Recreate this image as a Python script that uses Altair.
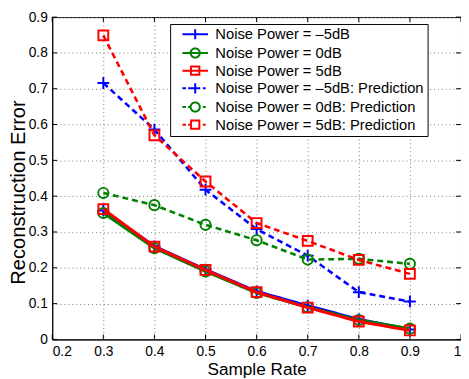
import altair as alt
import pandas as pd

sample_rate = [0.3, 0.4, 0.5, 0.6, 0.7, 0.8, 0.9]
labels = [
    "Noise Power = –5dB",
    "Noise Power = 0dB",
    "Noise Power = 5dB",
    "Noise Power = –5dB: Prediction",
    "Noise Power = 0dB: Prediction",
    "Noise Power = 5dB: Prediction",
]
err_m5 = [0.360, 0.260, 0.195, 0.134, 0.094, 0.056, 0.028]
err_0 = [0.353, 0.255, 0.190, 0.130, 0.090, 0.054, 0.030]
err_5 = [0.364, 0.259, 0.194, 0.132, 0.089, 0.050, 0.025]
pred_m5 = [0.716, 0.586, 0.418, 0.308, 0.234, 0.132, 0.106]
pred_0 = [0.409, 0.375, 0.320, 0.277, 0.223, 0.225, 0.211]
pred_5 = [0.849, 0.570, 0.441, 0.325, 0.275, 0.222, 0.183]
series_values = [err_m5, err_0, err_5, pred_m5, pred_0, pred_5]
colors = ["#0000ff", "#008000", "#ff0000", "#0000ff", "#008000", "#ff0000"]
x_ticks = [0.2, 0.3, 0.4, 0.5, 0.6, 0.7, 0.8, 0.9, 1.0]
y_ticks = [0.0, 0.1, 0.2, 0.3, 0.4, 0.5, 0.6, 0.7, 0.8, 0.9]

W, H = 416, 328
FONT = "Liberation Sans"

rows = []
for lab, vals in zip(labels, series_values):
    for xv, yv in zip(sample_rate, vals):
        rows.append({"series": lab, "x": xv, "y": yv})
df = pd.DataFrame(rows)

xscale = alt.Scale(domain=[0.2, 1.0], nice=False, zero=False)
yscale = alt.Scale(domain=[0, 0.9], nice=False, zero=False)
xaxis = alt.Axis(values=x_ticks, format=".1~f", title="Sample Rate", grid=True,
                 gridDash=[1, 3], gridColor="#777777", tickSize=0, labelPadding=5,
                 titleFontSize=17.5, titlePadding=3, domainColor="black")
yaxis = alt.Axis(values=y_ticks, format=".1~f", title="Reconstruction Error", grid=True,
                 gridDash=[1, 3], gridColor="#777777", tickSize=0, labelPadding=5,
                 titleFontSize=20.5, titleX=-28, titleY=178, titleBaseline="alphabetic",
                 titleAngle=270, titleAlign="center", domainColor="black")

# marker shapes (plot) and legend symbols (line + marker)
plus = "M-1,0H1M0,-1V1"
marker_shapes = [plus, "circle", "square", plus, "circle", "square"]
marker_sizes = [144, 107, 100, 144, 107, 100]

k = 2.6  # legend path scale (unit = 5px for symbolSize 100)
def f(v):
    return f"{round(v * k, 3)}"
r = 0.36
circ = f"M-{f(r)},0A{f(r)},{f(r)} 0 1,1 {f(r)},0A{f(r)},{f(r)} 0 1,1 -{f(r)},0"
s = r * 0.9
sq = f"M-{f(s)},-{f(s)}H{f(s)}V{f(s)}H-{f(s)}Z"
p = r * 1.1
pl = f"M0,-{f(p)}V{f(p)}M-{f(p)},0H{f(p)}"
solid_line = f"M-{f(1)},0H{f(1)}"
dash_line = f"M-{f(1)},0H-{f(0.72)}M-{f(0.55)},0H-{f(0.38)}M{f(0.6)},0H{f(0.82)}"
legend_paths = [solid_line + pl, solid_line + circ, solid_line + sq,
                dash_line + pl, dash_line + circ, dash_line + sq]

shape_expr = "[" + ",".join(f"'{q}'" for q in legend_paths) + "][indexof([" + \
    ",".join(f"'{l}'" for l in labels) + "], datum.value)]"

legend = alt.Legend(
    orient="none", legendX=120, legendY=7, direction="vertical", title=None,
    padding=3, strokeColor="black", fillColor="white", cornerRadius=0,
    labelFont=FONT, labelFontSize=15, labelColor="black", labelOffset=13,
    labelLimit=400, symbolOffset=15, labelExpr="datum.label + ' '",
    symbolSize=100, symbolStrokeWidth=2, rowPadding=0, values=labels,
    symbolType={"expr": shape_expr}, symbolFillColor="transparent",
    symbolDash=[1, 0], symbolOpacity=1,
)
color_scale = alt.Scale(domain=labels, range=colors)

layers = []
for i, lab in enumerate(labels):
    base = alt.Chart(df).transform_filter(alt.datum.series == lab)
    enc = dict(
        x=alt.X("x:Q", scale=xscale, axis=xaxis),
        y=alt.Y("y:Q", scale=yscale, axis=yaxis),
        color=alt.Color("series:N", scale=color_scale, legend=legend),
    )
    dash = [1, 0] if i < 3 else [6, 4]
    line = base.mark_line(strokeWidth=3 if i < 3 else 2.6, strokeDash=dash).encode(**enc)
    pts = base.mark_point(shape=marker_shapes[i], size=marker_sizes[i], filled=False,
                          strokeWidth=2, opacity=1).encode(**enc)
    layers += [line, pts]

xt = pd.DataFrame({"t": x_ticks})
yt = pd.DataFrame({"t": y_ticks})
tick_layers = [
    alt.Chart(xt).mark_rule(color="black", strokeWidth=1).encode(
        x=alt.X("t:Q", scale=xscale, axis=xaxis), y=alt.value(0), y2=alt.value(5)),
    alt.Chart(xt).mark_rule(color="black", strokeWidth=1).encode(
        x=alt.X("t:Q", scale=xscale, axis=xaxis), y=alt.value(H - 5), y2=alt.value(H)),
    alt.Chart(yt).mark_rule(color="black", strokeWidth=1).encode(
        y=alt.Y("t:Q", scale=yscale, axis=yaxis), x=alt.value(0), x2=alt.value(5)),
    alt.Chart(yt).mark_rule(color="black", strokeWidth=1).encode(
        y=alt.Y("t:Q", scale=yscale, axis=yaxis), x=alt.value(W - 5), x2=alt.value(W)),
]

chart = alt.layer(*tick_layers, *layers).properties(
    width=W, height=H,
    autosize=alt.AutoSizeParams(type="none"),
    padding={"left": 45, "top": 6, "right": 0, "bottom": 37},
    background="white",
).configure_view(stroke="black", strokeWidth=1).configure_axis(
    labelFont=FONT, labelFontSize=14, labelColor="black", titleFont=FONT,
    titleFontWeight="normal", titleColor="black", domainWidth=1,
).configure_legend(labelFont=FONT)

chart.save("out.html", embed_options={"renderer": "svg", "actions": False})
